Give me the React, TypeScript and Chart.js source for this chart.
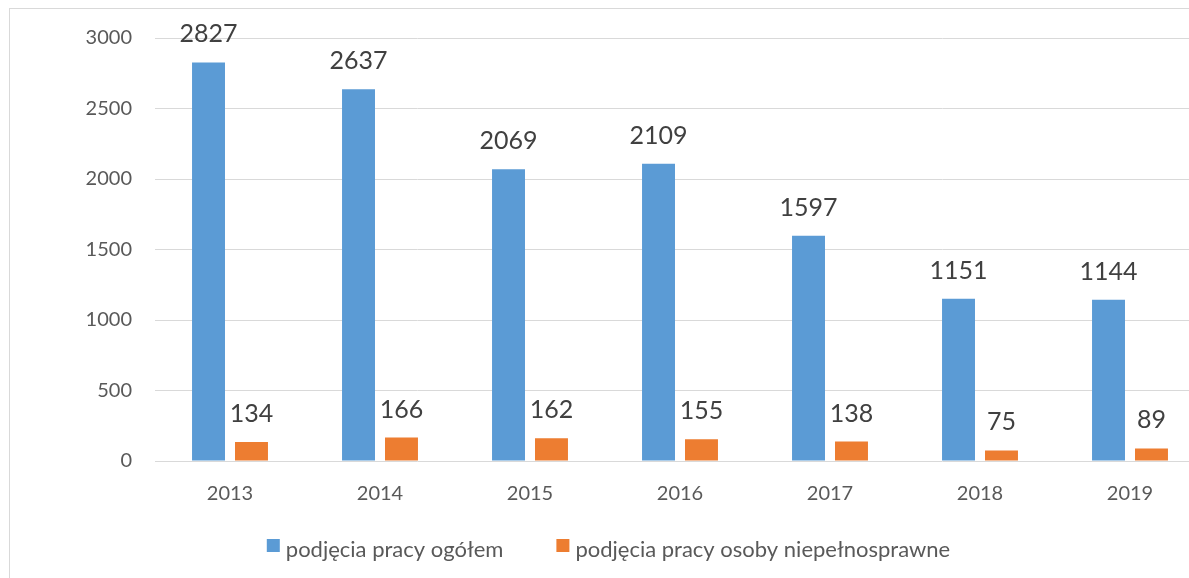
import React, { useEffect, useRef } from "react";
import { Chart, registerables } from "chart.js";

Chart.register(...registerables);

const years = ["2013", "2014", "2015", "2016", "2017", "2018", "2019"];
const totalHires = [2827, 2637, 2069, 2109, 1597, 1151, 1144];
const disabledHires = [134, 166, 162, 155, 138, 75, 89];
const seriesNames = ["podjęcia pracy ogółem", "podjęcia pracy osoby niepełnosprawne"];
const seriesColors = ["#5B9BD5", "#ED7D31"];
const yTicksMax = 3000;
const yTicksStep = 500;

const FONT = "Lato, 'Open Sans', sans-serif";

const valueLabels = {
  id: "valueLabels",
  afterDatasetsDraw(chart: any) {
    const ctx = chart.ctx;
    ctx.save();
    ctx.font = `25px ${FONT}`;
    ctx.fillStyle = "#404040";
    ctx.textAlign = "center";
    ctx.textBaseline = "alphabetic";
    chart.data.datasets.forEach((ds: any, i: number) => {
      const meta = chart.getDatasetMeta(i);
      meta.data.forEach((el: any, j: number) => {
        ctx.fillText(String(ds.data[j]), el.x, el.y - 20);
      });
    });
    ctx.restore();
  },
};

const bottomLegend = {
  id: "bottomLegend",
  afterDraw(chart: any) {
    const ctx = chart.ctx;
    const box = 13;
    const gap = 6;
    const itemGap = 53;
    const baseline = 548;
    ctx.save();
    ctx.font = `22px ${FONT}`;
    const items = chart.data.datasets.map((ds: any) => ({
      text: ds.label,
      color: ds.backgroundColor,
      w: box + gap + ctx.measureText(ds.label).width,
    }));
    const total = items.reduce((s: number, it: any) => s + it.w, 0) + itemGap * (items.length - 1);
    let x = chart.width / 2 - total / 2;
    items.forEach((it: any) => {
      ctx.fillStyle = it.color;
      ctx.fillRect(x, baseline - 18, box, box);
      ctx.fillStyle = "#595959";
      ctx.textAlign = "left";
      ctx.textBaseline = "alphabetic";
      ctx.fillText(it.text, x + box + gap, baseline);
      x += it.w + itemGap;
    });
    ctx.restore();
  },
};

export default function App() {
  const ref = useRef<HTMLCanvasElement>(null);
  useEffect(() => {
    document.body.style.margin = "0";
    document.body.style.overflow = "hidden";
    const chart = new Chart(ref.current as HTMLCanvasElement, {
      type: "bar",
      data: {
        labels: years,
        datasets: [
          {
            label: seriesNames[0],
            data: totalHires,
            backgroundColor: seriesColors[0],
            categoryPercentage: 0.573,
            barPercentage: 0.767,
          },
          {
            label: seriesNames[1],
            data: disabledHires,
            backgroundColor: seriesColors[1],
            categoryPercentage: 0.573,
            barPercentage: 0.767,
          },
        ],
      },
      options: {
        responsive: false,
        animation: false,
        devicePixelRatio: 1,
        layout: { padding: { top: 29, right: 2, left: 0, bottom: 0 } },
        plugins: {
          tooltip: { enabled: false },
          legend: { display: false },
        },
        scales: {
          x: {
            grid: { display: false, drawTicks: false },
            border: { display: false },
            ticks: { font: { family: FONT, size: 20 }, color: "#595959", padding: 21 },
            afterFit: (scale: any) => {
              scale.height = 108;
            },
          },
          y: {
            min: 0,
            max: yTicksMax,
            grid: { color: "#d9d9d9", lineWidth: 1, drawTicks: false },
            border: { display: false },
            ticks: {
              stepSize: yTicksStep,
              font: { family: FONT, size: 20 },
              color: "#595959",
              padding: 23,
              callback: (v: any) => String(v),
            },
            afterFit: (scale: any) => {
              scale.width = 145;
              scale.paddingTop = 0;
              scale.paddingBottom = 0;
            },
          },
        },
      },
      plugins: [valueLabels, bottomLegend],
    } as any);
    return () => chart.destroy();
  }, []);

  return (
    <div
      style={{
        position: "fixed",
        left: 0,
        top: 0,
        width: 1189,
        height: 578,
        overflow: "hidden",
        background: "#fff",
      }}
    >
      <div
        style={{
          position: "absolute",
          left: 9,
          top: 8,
          width: 1204,
          height: 640,
          border: "1px solid #d9d9d9",
          boxSizing: "border-box",
        }}
      >
        <canvas ref={ref} width={1197} height={560} style={{ display: "block" }} />
      </div>
    </div>
  );
}
